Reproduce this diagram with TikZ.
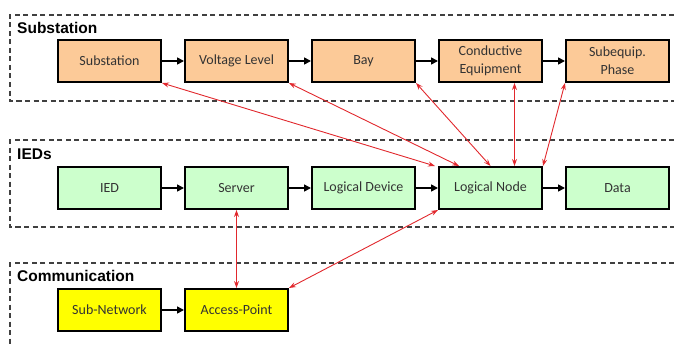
\documentclass[tikz,border=0pt]{standalone}
\usepackage{fontspec}
\setmainfont{Carlito}
\newfontfamily\headfont{Liberation Sans}
\usetikzlibrary{arrows.meta,positioning,shadows}

\definecolor{ssorange}{RGB}{252,202,152}
\definecolor{iedgreen}{RGB}{204,255,204}
\definecolor{comyellow}{RGB}{255,255,0}
\definecolor{linkred}{RGB}{225,40,45}

\begin{document}
\begin{tikzpicture}[x=1pt,y=-1pt,node distance=22pt,
  box/.style={rectangle,draw,line width=2pt,minimum width=103pt,minimum height=42pt,
    align=center,text=black!80,font=\fontsize{14}{18}\selectfont,
    drop shadow={opacity=0.25,shadow xshift=1pt,shadow yshift=-1pt}},
  head/.style={anchor=base west,inner sep=0pt,font=\headfont\bfseries\fontsize{15.5}{17}\selectfont},
  frame/.style={dashed,dash pattern=on 5pt off 3.5pt,line width=1.1pt,black!75},
  flow/.style={-{Triangle[length=7pt,width=7pt]},line width=1.6pt},
  rel/.style={{Stealth[length=7pt,width=5pt,inset=2.5pt]}-{Stealth[length=7pt,width=5pt,inset=2.5pt]},linkred,line width=0.9pt}]
\useasboundingbox (0,0) rectangle (674,345);

% layers
\draw[frame] (674,15) -| (10,101) -- (674,101);
\draw[frame] (674,140) -| (10,227) -- (674,227);
\draw[frame] (674,263) -| (10,345);
\node[head] (tsub) at (17,34) {Substation};
\node[head] (tied) at (17,159) {IEDs};
\node[head] (tcom) at (17,281) {Communication};

% substation row
\node[box,fill=ssorange] (sub) at (109.5,61) {Substation};
\node[box,fill=ssorange,right=of sub] (volt) {Voltage Level};
\node[box,fill=ssorange,right=of volt] (bay) {Bay};
\node[box,fill=ssorange,right=of bay] (cond) {Conductive\\Equipment};
\node[box,fill=ssorange,right=of cond] (subeq) {Subequip.\\Phase};

% ied row
\node[box,fill=iedgreen] (ied) at (109.5,188) {IED};
\node[box,fill=iedgreen,right=of ied] (server) {Server};
\node[box,fill=iedgreen,right=of server] (ldev) {Logical Device};
\node[box,fill=iedgreen,right=of ldev] (lnode) {Logical Node};
\node[box,fill=iedgreen,right=of lnode] (data) {Data};

% communication row
\node[box,fill=comyellow] (subnet) at (109.5,310) {Sub-Network};
\node[box,fill=comyellow,right=of subnet] (ap) {Access-Point};

\draw[flow] (sub) -- (volt);
\draw[flow] (volt) -- (bay);
\draw[flow] (bay) -- (cond);
\draw[flow] (cond) -- (subeq);
\draw[flow] (ied) -- (server);
\draw[flow] (server) -- (ldev);
\draw[flow] (ldev) -- (lnode);
\draw[flow] (lnode) -- (data);
\draw[flow] (subnet) -- (ap);

% relations
\draw[rel] (sub.south east) -- ([xshift=-3pt]lnode.north west);
\draw[rel] (volt.south east) -- ([xshift=21pt]lnode.north west);
\draw[rel] (bay.south east) -- (lnode.north);
\draw[rel] ([xshift=24pt]cond.south) -- ([xshift=24pt]lnode.north);
\draw[rel] (subeq.south west) -- (lnode.north east);
\draw[rel] (server.south) -- (ap.north);
\draw[rel] (lnode.south west) -- (ap.north east);
\end{tikzpicture}
\end{document}
